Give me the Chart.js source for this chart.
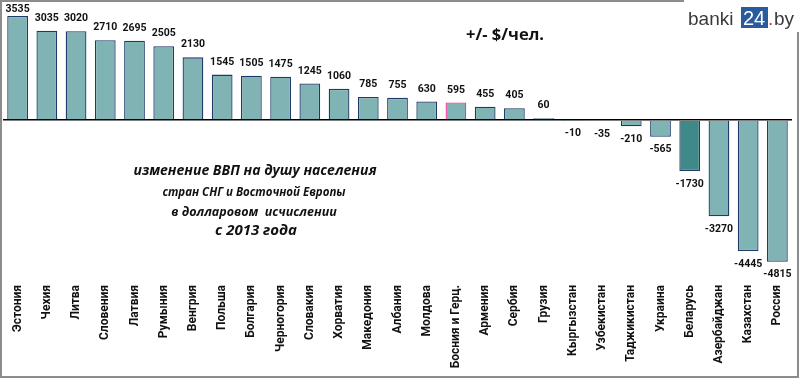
<!DOCTYPE html>
<html>
<head>
<meta charset="utf-8">
<script src="https://cdn.jsdelivr.net/npm/chart.js@4"></script>
<style>
  html, body { margin: 0; padding: 0; background: #fff; }
  #wrap { width: 800px; height: 379px; position: relative; }
</style>
</head>
<body>
<div id="wrap"><canvas id="gdp-chart" width="800" height="379"></canvas></div>
<script>
var countries = [
  "Эстония", "Чехия", "Литва", "Словения", "Латвия", "Румыния", "Венгрия",
  "Польша", "Болгария", "Черногория", "Словакия", "Хорватия", "Македония",
  "Албания", "Молдова", "Босния и Герц.", "Армения", "Сербия", "Грузия",
  "Кыргызстан", "Узбекистан", "Таджикистан", "Украина", "Беларусь",
  "Азербайджан", "Казахстан", "Россия"
];
var change = [
  3535, 3035, 3020, 2710, 2695, 2505, 2130, 1545, 1505, 1475, 1245, 1060, 785,
  755, 630, 595, 455, 405, 60, -10, -35, -210, -565, -1730, -3270, -4445, -4815
];
var titleLines = [
  "изменение ВВП на душу населения",
  "стран СНГ и Восточной Европы",
  "в долларовом  исчислении",
  "с 2013 года"
];

var fillColors = countries.map(function (c) {
  return c === "Беларусь" ? "#3f8a88" : "#80b4b4";
});
var edgeColors = countries.map(function (c) {
  return c === "Босния и Герц." ? "#ff3399" : "#1f3a68";
});

// value labels above / below bars
var valueLabels = {
  id: "valueLabels",
  afterDatasetsDraw: function (chart) {
    var ctx = chart.ctx;
    var meta = chart.getDatasetMeta(0);
    ctx.save();
    ctx.font = "bold 10.5px Roboto";
    ctx.fillStyle = "#111";
    ctx.textAlign = "center";
    ctx.textBaseline = "middle";
    meta.data.forEach(function (bar, i) {
      var v = change[i];
      var y = v >= 0 ? Math.max(bar.y - 12.5, 9.5) : bar.y + 13;
      ctx.fillText(String(v), bar.x, y);
    });
    ctx.restore();
  }
};

// frame, captions, logo
var decor = {
  id: "decor",
  afterDraw: function (chart) {
    var ctx = chart.ctx;
    ctx.save();
    ctx.strokeStyle = "#8c8c8c";
    ctx.lineWidth = 2;
    ctx.strokeRect(1, 1, 797, 376);

    ctx.fillStyle = "#111";
    ctx.textAlign = "center";
    ctx.textBaseline = "middle";
    ctx.font = "italic bold 14px 'Open Sans'";
    ctx.fillText(titleLines[0], 255, 171);
    ctx.font = "italic bold 11.5px 'Open Sans'";
    ctx.fillText(titleLines[1], 254, 193);
    ctx.font = "italic bold 12.5px 'Open Sans'";
    ctx.fillText(titleLines[2], 254, 212);
    ctx.font = "italic bold 15px 'Open Sans'";
    ctx.fillText(titleLines[3], 256, 231);

    ctx.font = "bold 16.5px 'Open Sans'";
    ctx.fillText("+/- $/чел.", 505, 35);

    // logo
    ctx.fillStyle = "#fff";
    ctx.fillRect(684, 0, 116, 32);
    ctx.textAlign = "left";
    ctx.textBaseline = "alphabetic";
    ctx.font = "19px 'Liberation Sans'";
    ctx.fillStyle = "#3a3a3a";
    ctx.fillText("banki", 688, 25);
    ctx.fillStyle = "#2a5b9c";
    ctx.fillRect(741, 7, 27, 21);
    ctx.fillStyle = "#fff";
    ctx.font = "20px 'Liberation Sans'";
    ctx.fillText("24", 743, 25);
    ctx.font = "19px 'Liberation Sans'";
    ctx.fillStyle = "#e02a2a";
    ctx.fillText(".", 768, 25);
    ctx.fillStyle = "#3a3a3a";
    ctx.fillText("by", 774, 25);
    ctx.restore();
  }
};

var config = {
  type: "bar",
  data: {
    labels: countries,
    datasets: [
      {
        data: change,
        backgroundColor: fillColors,
        borderColor: edgeColors,
        borderWidth: 1.3,
        categoryPercentage: 0.71,
        barPercentage: 1,
      },
    ],
  },
  options: {
    responsive: false,
    animation: false,
    layout: { padding: { left: 3, right: 8, top: 2.3, bottom: 0 } },
    plugins: {
      legend: { display: false },
      tooltip: { enabled: false },
    },
    scales: {
      x: {
        grid: { display: false, drawTicks: false },
        border: { display: false },
        afterFit: function (scale) { scale.height = 97; },
        ticks: {
          autoSkip: false,
          minRotation: 90,
          maxRotation: 90,
          padding: 3,
          color: "#111",
          font: { family: "Roboto", weight: "bold", size: 12 },
        },
      },
      y: {
        min: -5500,
        max: 4000,
        border: { display: false },
        grid: {
          drawTicks: false,
          lineWidth: 1.5,
          color: function (c) { return c.tick && c.tick.value === 0 ? "#000" : "rgba(0,0,0,0)"; },
        },
        ticks: { display: false, stepSize: 500 },
      },
    },
  },
  plugins: [valueLabels, decor],
};

new Chart(document.getElementById("gdp-chart").getContext("2d"), config);
</script>
</body>
</html>
